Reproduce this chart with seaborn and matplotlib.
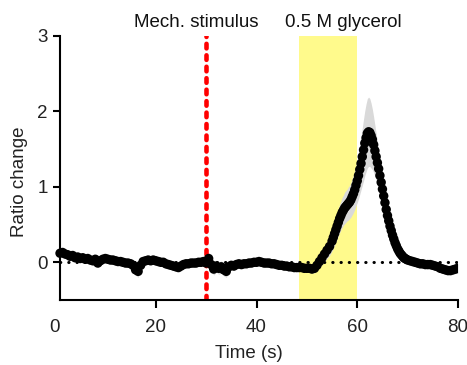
import numpy as np
import pandas as pd
import matplotlib
matplotlib.use("Agg")
import matplotlib.pyplot as plt
import seaborn as sns

# ---- data ----
time_a = np.arange(1.0, 55.0, 0.5)      # sampling grid, 0.5 s
ratio_a = [0.12, 0.13, 0.11, 0.10, 0.08, 0.09, 0.06, 0.07, 0.05, 0.06,
           0.04, 0.05, 0.03, 0.02, 0.04, -0.01, 0.02, 0.04, 0.05,
           0.04, 0.03, 0.03, 0.02, 0.01, 0.01, 0.00, -0.01, -0.01, -0.02,
           -0.04, -0.10, -0.12, -0.04, 0.01, 0.02, 0.03, 0.02, 0.03, 0.02,
           0.01, 0.00, 0.00, -0.02, -0.03, -0.04, -0.05, -0.06, -0.07, -0.05,
           -0.03, -0.02, -0.02, -0.01, -0.01, -0.01, 0.00, 0.00, 0.01, -0.01,
           0.05, -0.03, -0.09, -0.05, -0.08, -0.06, -0.10, -0.12, -0.06, -0.04,
           -0.05, -0.03, -0.02, -0.03, -0.02, -0.02, -0.01, -0.01, 0.00, 0.00,
           0.01, 0.00, -0.01, -0.01, -0.01, -0.02, -0.02, -0.03, -0.04, -0.04,
           -0.05, -0.05, -0.06, -0.06, -0.07, -0.07, -0.07, -0.07, -0.08, -0.08,
           -0.08, -0.09, -0.08, -0.04, 0.01, 0.06, 0.11, 0.16, 0.21]
sem_a = [0.05, 0.05, 0.05, 0.05, 0.06, 0.06, 0.05, 0.05, 0.05,
         0.05, 0.05, 0.05, 0.05, 0.06, 0.06, 0.06, 0.06, 0.05, 0.05,
         0.05, 0.05, 0.05, 0.05, 0.05, 0.05, 0.05, 0.05, 0.05, 0.05,
         0.06, 0.07, 0.08, 0.06, 0.05, 0.05, 0.05, 0.05, 0.05, 0.05,
         0.05, 0.05, 0.05, 0.05, 0.05, 0.05, 0.05, 0.05, 0.05, 0.05,
         0.05, 0.05, 0.05, 0.05, 0.05, 0.05, 0.05, 0.05, 0.06, 0.07,
         0.08, 0.08, 0.08, 0.08, 0.08, 0.08, 0.08, 0.08, 0.07, 0.06,
         0.06, 0.06, 0.06, 0.06, 0.05, 0.05, 0.05, 0.05, 0.05, 0.05,
         0.05, 0.05, 0.05, 0.05, 0.05, 0.05, 0.05, 0.05, 0.05, 0.05,
         0.05, 0.05, 0.05, 0.05, 0.05, 0.05, 0.05, 0.05, 0.05, 0.05,
         0.05, 0.05, 0.06, 0.07, 0.08, 0.09, 0.10, 0.11, 0.12]

time_b = np.arange(55.0, 70.01, 0.25)   # sampling grid, 0.25 s
ratio_b = [0.28, 0.33, 0.38, 0.43, 0.48, 0.53, 0.58, 0.62, 0.66, 0.69,
           0.72, 0.74, 0.76, 0.78, 0.80, 0.83, 0.87, 0.91, 0.96, 1.02,
           1.08, 1.15, 1.23, 1.31, 1.40, 1.49, 1.58, 1.65, 1.71, 1.73,
           1.72, 1.68, 1.63, 1.56, 1.48, 1.40, 1.32, 1.24, 1.15, 1.06,
           0.97, 0.88, 0.79, 0.70, 0.62, 0.55, 0.48, 0.42, 0.36, 0.31,
           0.26, 0.22, 0.18, 0.15, 0.12, 0.10, 0.08, 0.06, 0.05, 0.04,
           0.03]
sem_b = [0.13, 0.14, 0.15, 0.16, 0.17, 0.18, 0.19, 0.19, 0.20, 0.20,
         0.21, 0.21, 0.21, 0.22, 0.22, 0.23, 0.24, 0.25, 0.26, 0.27,
         0.29, 0.31, 0.33, 0.35, 0.38, 0.41, 0.43, 0.45, 0.46, 0.46,
         0.45, 0.43, 0.40, 0.37, 0.34, 0.31, 0.28, 0.26, 0.24, 0.22,
         0.20, 0.18, 0.17, 0.16, 0.15, 0.14, 0.13, 0.12, 0.11, 0.10,
         0.09, 0.09, 0.08, 0.08, 0.07, 0.07, 0.07, 0.06, 0.06, 0.06,
         0.06]

time_c = np.arange(70.5, 80.01, 0.5)
ratio_c = [0.02, 0.01, 0.00, -0.01, -0.02, -0.02, -0.03, -0.03, -0.03, -0.04,
           -0.05, -0.06, -0.08, -0.09, -0.10, -0.11, -0.11, -0.10, -0.09, -0.08]
sem_c = [0.06, 0.06, 0.06, 0.06, 0.06, 0.06, 0.06, 0.06, 0.06, 0.06,
         0.06, 0.06, 0.06, 0.06, 0.06, 0.06, 0.06, 0.06, 0.06, 0.06]

stim_time = 30
glycerol_start, glycerol_end = 48.5, 60
x_ticks = [0, 20, 40, 60, 80]
y_ticks = [0, 1, 2, 3]

df = pd.DataFrame({
    "time": np.concatenate([time_a, time_b, time_c]),
    "ratio": np.concatenate([ratio_a, ratio_b, ratio_c]),
    "sem": np.concatenate([sem_a, sem_b, sem_c]),
})

# ---- style ----
sns.set_theme(style="ticks")
plt.rcParams["font.family"] = ["Liberation Sans", "DejaVu Sans"]
FS = 13.5

fig = plt.figure(figsize=(4.67, 3.65), dpi=100)
ax = fig.add_axes([55 / 467, 1 - 300 / 365, (458 - 55) / 467, (300 - 36) / 365])

ax.axvspan(glycerol_start, glycerol_end, ymin=0, ymax=1, color="#fffa8c", lw=0, zorder=0)
ax.fill_between(df["time"], df["ratio"] - df["sem"], df["ratio"] + df["sem"],
                color="#d9d9d9", lw=0, zorder=1)
ax.plot([1, 80], [0, 0], color="black", lw=2.2, dashes=(0.1, 2.6),
        dash_capstyle="round", zorder=2)
ax.plot([stim_time, stim_time], [-0.5, 3], color="#ff0000", lw=3.3,
        dashes=(1.0, 1.5), dash_capstyle="round", zorder=2)
sns.scatterplot(data=df, x="time", y="ratio", ax=ax, color="black", s=46,
                edgecolor="none", linewidth=0, zorder=3, legend=False)

ax.set_xlim(0, 80)
ax.set_ylim(-0.5, 3)
ax.set_xticks(x_ticks)
ax.set_yticks(y_ticks)
ax.spines["left"].set_position(("data", 1))
ax.spines["bottom"].set_bounds(1, 80)
for s in ["top", "right"]:
    ax.spines[s].set_visible(False)
for s in ["left", "bottom"]:
    ax.spines[s].set_linewidth(1.5)
    ax.spines[s].set_color("black")
ax.tick_params(axis="both", width=1.5, length=5, color="black",
               labelsize=FS, labelcolor="#222222", pad=4)
ax.tick_params(axis="x", length=6, pad=8)
ax.xaxis.get_major_ticks()[0].tick1line.set_visible(False)

ax.set_xlabel("Time (s)", fontsize=FS, color="#222222", va="center")
ax.set_ylabel("Ratio change", fontsize=FS, color="#222222", va="center")
ax.xaxis.set_label_coords((249 - 55) / (458 - 55), -(353 - 300) / 264)
ax.yaxis.set_label_coords((20 - 55) / (458 - 55), (300 - 182) / 264)

ax.text(28, 3.18, "Mech. stimulus", ha="center", va="center", fontsize=FS,
        color="#111111", clip_on=False)
ax.text(57.2, 3.18, "0.5 M glycerol", ha="center", va="center", fontsize=FS,
        color="#111111", clip_on=False)

fig.savefig("out.png", dpi=100)
